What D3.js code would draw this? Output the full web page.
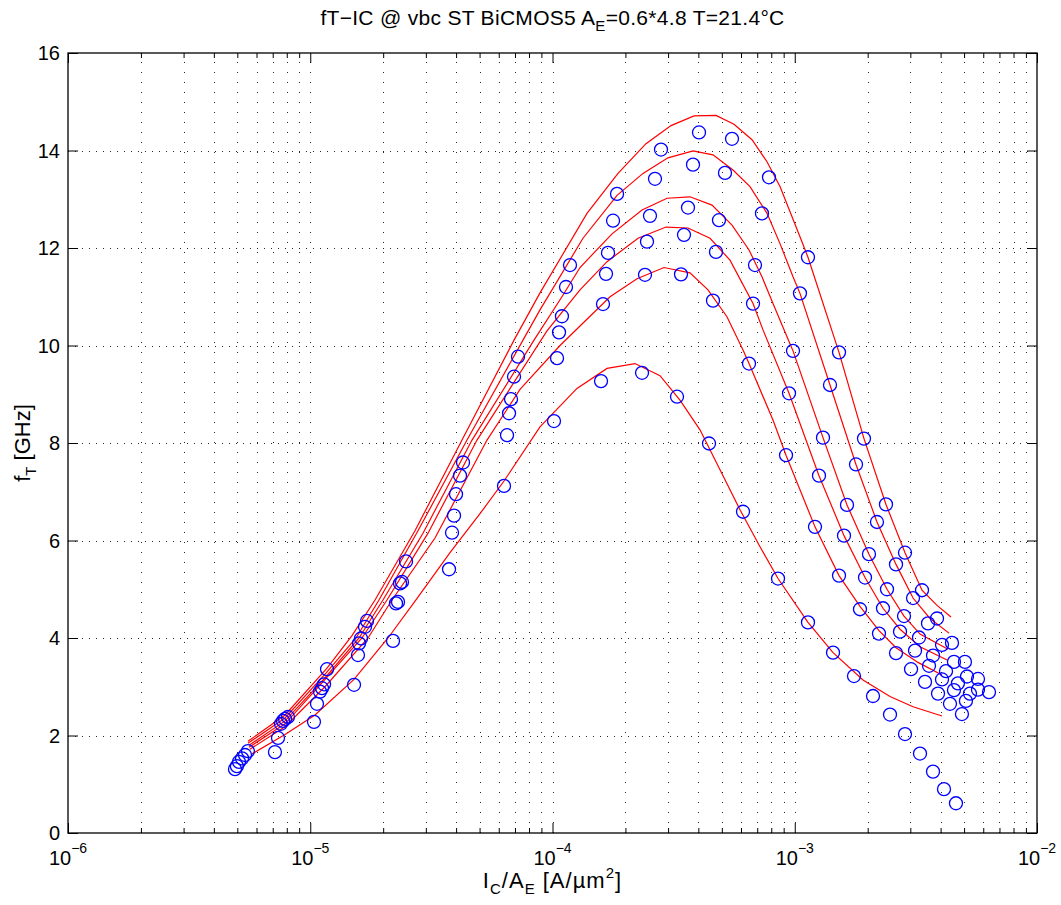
<!DOCTYPE html>
<html>
<head>
<meta charset="utf-8">
<script src="https://cdnjs.cloudflare.com/ajax/libs/d3/7.8.5/d3.min.js"></script>
<style>
  body { margin: 0; background: #fff; }
  svg { display: block; font-family: "Liberation Sans", Arial, Helvetica, sans-serif; }
  .model { fill: none; stroke: #ff0000; stroke-width: 1.2; }
  .meas { fill: none; stroke: #0000ff; stroke-width: 1.3; }
</style>
</head>
<body>
<div class="chart"></div>
<script>
/* tick labels */
var yTicks = [0, 2, 4, 6, 8, 10, 12, 14, 16];
var xDecades = [-6, -5, -4, -3, -2];

/* measured fT [GHz] vs IC/AE [A/um^2], one array per vbc */
var meas1 = [[5.53e-6,1.68],[8.09e-6,2.38],[1.173e-5,3.36],[1.715e-5,4.35],[2.485e-5,5.57],[4.272e-5,7.60],
  [7.206e-5,9.77],[1.181e-4,11.65],[1.847e-4,13.11],[2.805e-4,14.02],[4.025e-4,14.37],[5.508e-4,14.24],
  [7.828e-4,13.45],[1.134e-3,11.81],[1.523e-3,9.86],[1.931e-3,8.09],[2.380e-3,6.74],[2.852e-3,5.75],
  [3.352e-3,4.98],[3.866e-3,4.40],[4.457e-3,3.90],[5.041e-3,3.51],[5.707e-3,3.16],[6.337e-3,2.89]];
var meas2 = [[5.38e-6,1.60],[7.87e-6,2.34],[1.140e-5,3.05],[1.683e-5,4.23],[2.392e-5,5.15],[4.152e-5,7.33],
  [6.937e-5,9.36],[1.137e-4,11.2],[1.778e-4,12.56],[2.649e-4,13.42],[3.802e-4,13.71],[5.153e-4,13.54],
  [7.323e-4,12.71],[1.051e-3,11.07],[1.398e-3,9.19],[1.790e-3,7.56],[2.185e-3,6.38],[2.618e-3,5.51],
  [3.078e-3,4.82],[3.549e-3,4.30],[4.054e-3,3.86],[4.542e-3,3.51],[5.140e-3,3.21],[5.707e-3,2.94]];
var meas3 = [[5.23e-6,1.53],[7.72e-6,2.30],[1.118e-5,2.97],[1.620e-5,3.99],[2.348e-5,5.12],[3.997e-5,6.95],
  [6.742e-5,8.90],[1.094e-4,10.6],[1.695e-4,11.90],[2.526e-4,12.66],[3.625e-4,12.83],[4.867e-4,12.57],
  [6.853e-4,11.65],[9.836e-4,9.89],[1.308e-3,8.11],[1.643e-3,6.73],[2.025e-3,5.72],[2.403e-3,5.00],
  [2.825e-3,4.45],[3.258e-3,4.01],[3.722e-3,3.64],[4.211e-3,3.32],[4.717e-3,3.07],[5.288e-3,2.86]];
var meas4 = [[5.08e-6,1.46],[7.57e-6,2.24],[1.097e-5,2.90],[1.590e-5,3.89],[2.303e-5,4.74],[3.922e-5,6.51],
  [6.615e-5,8.61],[1.064e-4,10.27],[1.663e-4,11.47],[2.455e-4,12.13],[3.490e-4,12.27],[4.730e-4,11.92],
  [6.726e-4,10.86],[9.470e-4,9.02],[1.259e-3,7.33],[1.597e-3,6.10],[1.950e-3,5.24],[2.313e-3,4.61],
  [2.720e-3,4.13],[3.137e-3,3.74],[3.583e-3,3.43],[4.054e-3,3.15],[4.542e-3,2.93],[5.090e-3,2.71]];
var meas5 = [[4.98e-6,1.37],[7.36e-6,1.95],[1.066e-5,2.65],[1.574e-5,3.65],[2.259e-5,4.71],[3.848e-5,6.16],
  [6.490e-5,8.16],[1.044e-4,9.74],[1.616e-4,10.85],[2.409e-4,11.45],[3.392e-4,11.46],[4.597e-4,10.92],
  [6.475e-4,9.63],[9.204e-4,7.75],[1.212e-3,6.28],[1.523e-3,5.28],[1.859e-3,4.59],[2.227e-3,4.09],
  [2.618e-3,3.69],[3.020e-3,3.36],[3.449e-3,3.10],[3.903e-3,2.86],[4.373e-3,2.65],[4.900e-3,2.44]];
var meas6 = [[4.89e-6,1.31],[7.15e-6,1.66],[1.036e-5,2.28],[1.516e-5,3.04],[2.196e-5,3.94],[3.740e-5,5.41],
  [6.307e-5,7.12],[1.0144e-4,8.45],[1.586e-4,9.27],[2.342e-4,9.44],[3.266e-4,8.95],[4.426e-4,7.99],
  [6.116e-4,6.59],[8.531e-4,5.22],[1.134e-3,4.32],[1.439e-3,3.70],[1.756e-3,3.22],[2.104e-3,2.81],
  [2.473e-3,2.43],[2.852e-3,2.03],[3.289e-3,1.63],[3.722e-3,1.26],[4.131e-3,0.90],[4.629e-3,0.61]];

/* model fT curves, same order */
var model1 = [[5.53e-6,1.88],[7.87e-6,2.42],[1.173e-5,3.38],[1.487e-5,4.05],[1.851e-5,4.78],[2.706e-5,6.20],
  [4.231e-5,8.06],[6.937e-5,10.11],[8.880e-5,11.08],[1.388e-4,12.71],[1.864e-4,13.53],[2.432e-4,14.14],
  [3.085e-4,14.51],[3.838e-4,14.71],[4.730e-4,14.72],[5.614e-4,14.54],[6.662e-4,14.22],[7.682e-4,13.77],
  [8.692e-4,13.26],[1.051e-3,12.23],[1.134e-3,11.81],[1.523e-3,9.86],[1.931e-3,8.09],[2.380e-3,6.74],
  [2.852e-3,5.75],[3.352e-3,4.98],[3.866e-3,4.67],[4.416e-3,4.43]];
var model2 = [[5.53e-6,1.84],[7.87e-6,2.36],[1.161e-5,3.28],[1.545e-5,4.00],[1.922e-5,4.78],[2.785e-5,6.20],
  [4.437e-5,8.06],[7.554e-5,10.11],[8.880e-5,10.73],[1.336e-4,12.20],[1.847e-4,13.08],[2.364e-4,13.53],
  [2.997e-4,13.85],[3.802e-4,13.99],[4.597e-4,13.91],[5.560e-4,13.60],[6.536e-4,13.26],[7.682e-4,12.71],
  [8.692e-4,12.09],[9.836e-4,11.41],[1.051e-3,11.07],[1.398e-3,9.19],[1.790e-3,7.56],[2.185e-3,6.38],
  [2.618e-3,5.51],[3.078e-3,4.82],[3.616e-3,4.40],[4.333e-3,4.10]];
var model3 = [[5.59e-6,1.80],[7.87e-6,2.30],[1.150e-5,3.18],[1.590e-5,4.00],[1.996e-5,4.78],[2.920e-5,6.15],
  [4.653e-5,8.06],[8.387e-5,10.11],[1.094e-4,11.00],[1.299e-4,11.60],[1.761e-4,12.29],[2.342e-4,12.78],
  [2.970e-4,13.02],[3.695e-4,13.05],[4.554e-4,12.88],[5.508e-4,12.47],[6.475e-4,11.96],[7.323e-4,11.41],
  [8.132e-4,10.86],[9.290e-4,10.18],[9.836e-4,9.89],[1.308e-3,8.11],[1.643e-3,6.73],[2.025e-3,5.72],
  [2.403e-3,5.00],[2.825e-3,4.45],[3.289e-3,4.08],[4.292e-3,3.77]];
var model4 = [[5.59e-6,1.76],[7.87e-6,2.24],[1.118e-5,3.08],[1.635e-5,4.00],[2.074e-5,4.78],[3.063e-5,6.15],
  [4.879e-5,8.06],[9.490e-5,10.30],[1.299e-4,11.14],[1.679e-4,11.72],[2.255e-4,12.20],[2.941e-4,12.43],
  [3.625e-4,12.41],[4.469e-4,12.20],[5.404e-4,11.75],[6.726e-4,10.86],[7.396e-4,10.32],[9.470e-4,9.02],
  [1.259e-3,7.33],[1.597e-3,6.10],[1.950e-3,5.24],[2.313e-3,4.61],[2.720e-3,4.18],[3.289e-3,3.82],
  [4.252e-3,3.55]];
var model5 = [[5.64e-6,1.72],[7.87e-6,2.18],[1.150e-5,3.00],[1.732e-5,4.00],[2.175e-5,4.78],[3.273e-5,6.05],
  [5.366e-5,8.06],[7.343e-5,9.10],[1.074e-4,10.00],[1.299e-4,10.40],[1.728e-4,11.00],[2.233e-4,11.37],
  [2.886e-4,11.60],[3.695e-4,11.49],[4.384e-4,11.14],[5.250e-4,10.59],[6.116e-4,9.91],[6.475e-4,9.63],
  [8.132e-4,8.47],[9.204e-4,7.75],[1.212e-3,6.28],[1.523e-3,5.28],[1.859e-3,4.65],[2.227e-3,4.15],
  [2.618e-3,3.80],[3.227e-3,3.50],[4.054e-3,3.24]];
var model6 = [[5.69e-6,1.61],[7.87e-6,2.02],[1.046e-5,2.42],[1.516e-5,3.15],[2.094e-5,4.00],[2.732e-5,4.78],
  [3.775e-5,5.75],[5.020e-5,6.55],[6.307e-5,7.22],[8.880e-5,8.33],[1.262e-4,9.12],[1.679e-4,9.53],
  [2.191e-4,9.63],[2.778e-4,9.38],[3.359e-4,8.88],[4.063e-4,8.27],[4.914e-4,7.45],[5.943e-4,6.63],
  [7.188e-4,5.87],[8.531e-4,5.22],[1.134e-3,4.32],[1.439e-3,3.70],[1.913e-3,3.14],[2.473e-3,2.80],
  [3.078e-3,2.59],[4.054e-3,2.40]];

var measured = [meas1, meas2, meas3, meas4, meas5, meas6];
var models = [model1, model2, model3, model4, model5, model6];

function main(){
    // dimensions & margins of graph
    var totalW = 1061, totalH = 905;
    var margin = { top: 53, right: 24, bottom: 72, left: 68 };
    var width  = totalW - margin.left - margin.right;
    var height = totalH - margin.top - margin.bottom;

    // set the ranges
    var x = d3.scaleLog()
        .domain([1e-6, 1e-2])
        .range([0, width]);
    var y = d3.scaleLinear()
        .domain([0, 16])
        .range([height, 0]);

    var svgRoot = d3.select('.chart').append('svg')
        .attr('width', totalW)
        .attr('height', totalH);
    var svg = svgRoot.append('g')
        .attr('transform', `translate(${margin.left}, ${margin.top})`);

    // major decades vs minor (2..9) ticks
    var majorX = xDecades.map((e) => { return Math.pow(10, e); });
    var allX = x.ticks();
    var minorX = allX.filter((d) => {
        var e = Math.log10(d);
        return Math.abs(e - Math.round(e)) > 1e-9;
    });

    /* dotted grid */
    var grid = svg.append('g')
        .attr('stroke', '#000')
        .attr('stroke-width', 1)
        .attr('stroke-opacity', 0.85);
    grid.selectAll('.vgrid')
        .data(allX.filter((d) => { return x(d) > 1 && x(d) < width - 1; }))
        .enter().append('line')
        .attr('class', 'vgrid')
        .attr('x1', (d) => { return Math.round(x(d)) + 0.5; })
        .attr('x2', (d) => { return Math.round(x(d)) + 0.5; })
        .attr('y1', height)
        .attr('y2', 0)
        .attr('stroke-dasharray', '1,9');
    grid.selectAll('.hgrid')
        .data(yTicks.slice(1, -1))
        .enter().append('line')
        .attr('class', 'hgrid')
        .attr('x1', 0)
        .attr('x2', width)
        .attr('y1', (d) => { return Math.round(y(d)) + 0.5; })
        .attr('y2', (d) => { return Math.round(y(d)) + 0.5; })
        .attr('stroke-dasharray', '1,6');

    /* model curves */
    var line = d3.line()
        .x((d) => { return x(d[0]); })
        .y((d) => { return y(d[1]); });
    svg.selectAll('.model')
        .data(models)
        .enter().append('path')
        .attr('class', 'model')
        .attr('d', line);

    /* measured points */
    var pts = [];
    measured.forEach((s) => { s.forEach((p) => { pts.push(p); }); });
    svg.selectAll('.meas')
        .data(pts)
        .enter().append('circle')
        .attr('class', 'meas')
        .attr('cx', (d) => { return x(d[0]); })
        .attr('cy', (d) => { return y(d[1]); })
        .attr('r', 6.5);

    /* axes: ticks pointing inward on all four sides */
    var noDomain = (g) => { g.select('.domain').remove(); };
    svg.append('g')
        .attr('transform', `translate(0, ${height})`)
        .call(d3.axisBottom(x).tickValues(majorX).tickSizeInner(-10).tickSizeOuter(0).tickFormat(''))
        .call(noDomain);
    svg.append('g')
        .attr('transform', `translate(0, ${height})`)
        .call(d3.axisBottom(x).tickValues(minorX).tickSizeInner(-5).tickSizeOuter(0).tickFormat(''))
        .call(noDomain);
    svg.append('g')
        .call(d3.axisTop(x).tickValues(majorX).tickSizeInner(-10).tickSizeOuter(0).tickFormat(''))
        .call(noDomain);
    svg.append('g')
        .call(d3.axisTop(x).tickValues(minorX).tickSizeInner(-5).tickSizeOuter(0).tickFormat(''))
        .call(noDomain);
    svg.append('g')
        .call(d3.axisLeft(y).tickValues(yTicks).tickSizeInner(-10).tickSizeOuter(0).tickFormat(''))
        .call(noDomain);
    svg.append('g')
        .attr('transform', `translate(${width}, 0)`)
        .call(d3.axisRight(y).tickValues(yTicks).tickSizeInner(-10).tickSizeOuter(0).tickFormat(''))
        .call(noDomain);
    svg.selectAll('.tick line').attr('stroke', '#000');

    // box
    svg.append('rect')
        .attr('x', 0)
        .attr('y', 0)
        .attr('width', width)
        .attr('height', height)
        .attr('fill', 'none')
        .attr('stroke', '#000')
        .attr('stroke-width', 1.3);

    /* tick labels */
    svg.selectAll('.ylab')
        .data(yTicks)
        .enter().append('text')
        .attr('class', 'ylab')
        .attr('x', -8)
        .attr('y', (d) => { return y(d); })
        .attr('dy', '0.36em')
        .attr('text-anchor', 'end')
        .attr('font-size', 20)
        .text((d) => { return d; });

    var xl = svg.selectAll('.xlab')
        .data(xDecades)
        .enter().append('text')
        .attr('class', 'xlab')
        .attr('x', (d) => { return x(Math.pow(10, d)); })
        .attr('y', height + 32)
        .attr('text-anchor', 'middle')
        .attr('font-size', 20);
    xl.append('tspan').text('10');
    xl.append('tspan')
        .attr('font-size', 14)
        .attr('dy', -12)
        .text((d) => { return '\u2212' + Math.abs(d); });

    /* title */
    var title = svgRoot.append('text')
        .attr('x', margin.left + width / 2)
        .attr('y', 25)
        .attr('text-anchor', 'middle')
        .attr('font-size', 21)
        .attr('letter-spacing', 0.3);
    title.append('tspan').text('fT\u2212IC @ vbc ST BiCMOS5 A');
    title.append('tspan').attr('font-size', 15).attr('dy', 6).text('E');
    title.append('tspan').attr('dy', -6).text('=0.6*4.8 T=21.4\u00b0C');

    /* y label */
    var ylab = svgRoot.append('text')
        .attr('transform', `translate(30, ${margin.top + height / 2}) rotate(-90)`)
        .attr('text-anchor', 'middle')
        .attr('font-size', 22);
    ylab.append('tspan').text('f');
    ylab.append('tspan').attr('font-size', 15).attr('dy', 6).text('T');
    ylab.append('tspan').attr('dy', -6).text(' [GHz]');

    /* x label */
    var xlab = svgRoot.append('text')
        .attr('x', margin.left + width / 2)
        .attr('y', 888)
        .attr('text-anchor', 'middle')
        .attr('font-size', 22)
        .attr('letter-spacing', 1);
    xlab.append('tspan').text('I');
    xlab.append('tspan').attr('font-size', 15).attr('dy', 6).text('C');
    xlab.append('tspan').attr('dy', -6).text('/A');
    xlab.append('tspan').attr('font-size', 15).attr('dy', 6).text('E');
    xlab.append('tspan').attr('dy', -6).text(' [A/\u00b5m');
    xlab.append('tspan').attr('font-size', 15).attr('dy', -10).text('2');
    xlab.append('tspan').attr('dy', 10).text(']');
}

/* initialize */
main();
</script>
</body>
</html>
